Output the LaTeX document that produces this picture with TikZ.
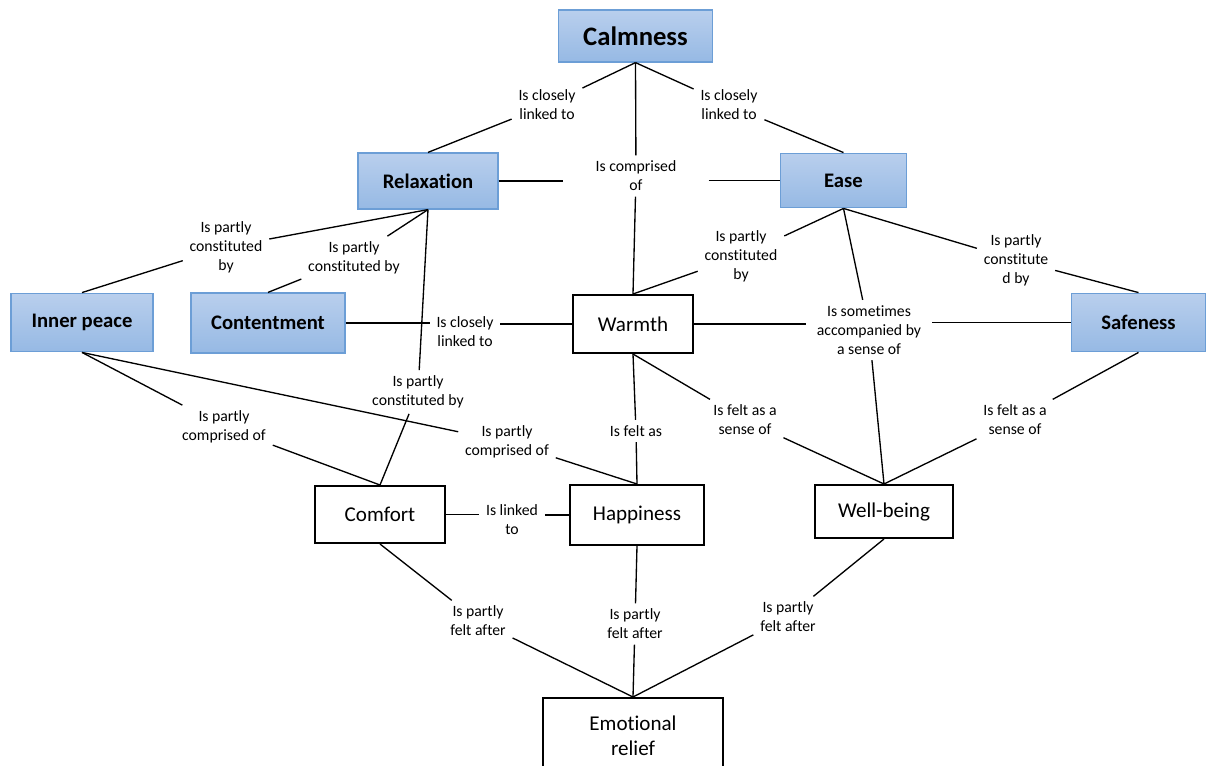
\documentclass[tikz,border=0pt]{standalone}
\usepackage{fontspec}
\setmainfont{Carlito}[Ligatures=NoCommon]
\definecolor{blueTop}{RGB}{185,207,237}
\definecolor{blueBot}{RGB}{150,185,228}
\definecolor{blueBorder}{RGB}{108,158,214}
\begin{document}
\begin{tikzpicture}[x=0.75pt,y=-0.75pt,
  bluebox/.style={draw=blueBorder, line width=0.9pt, top color=blueTop, bottom color=blueBot,
    font=\bfseries\fontsize{15.5}{18.5}\selectfont, inner sep=0pt, align=center},
  whitebox/.style={draw=black, line width=1.5pt, fill=white,
    font=\fontsize{15.8}{18.8}\selectfont, inner sep=0pt, align=center},
  lbl/.style={font=\fontsize{11.8}{14.3}\selectfont, align=center, inner xsep=5pt, inner ysep=4pt},
  conn/.style={draw=black, line width=1pt}]
\useasboundingbox (0,0) rectangle (1208,765);
\clip (0,0) rectangle (1208,765);
% boxes
\node[bluebox, minimum width=116pt, minimum height=39pt, font=\bfseries\fontsize{20}{24}\selectfont] (Calm) at (635.5,36) {Calmness};
\node[bluebox, minimum width=105pt, minimum height=42pt] (Relax) at (428,181) {Relaxation};
\node[bluebox, minimum width=95pt, minimum height=41pt] (Ease) at (843.5,180.5) {Ease};
\node[bluebox, minimum width=106.5pt, minimum height=44pt] (Inner) at (82,322.5) {Inner peace};
\node[bluebox, minimum width=115.5pt, minimum height=45pt] (Content) at (268,323) {Contentment};
\node[bluebox, minimum width=101pt, minimum height=44pt] (Safe) at (1138.5,322.5) {Safeness};
\node[whitebox, minimum width=90pt, minimum height=43.5pt] (Warmth) at (633,324) {Warmth};
\node[whitebox, minimum width=97.5pt, minimum height=42.75pt] (Comfort) at (380,514.5) {Comfort};
\node[whitebox, minimum width=100.5pt, minimum height=45pt] (Happy) at (637,515) {Happiness};
\node[whitebox, minimum width=103.5pt, minimum height=39.75pt] (Well) at (884,511.5) {Well-being};
\node[whitebox, minimum width=135pt, minimum height=57pt] (Relief) at (633,736) {Emotional\\relief};
% labels
\node[lbl] (L1) at (547,105) {Is closely\\linked to};
\node[lbl] (L2) at (729,105) {Is closely\\linked to};
\node[lbl, inner xsep=24pt] (L3) at (636,176) {Is comprised\\of};
\node[lbl] (L4) at (226,247) {Is partly\\constituted\\by};
\node[lbl] (L5) at (354,258) {Is partly\\constituted by};
\node[lbl] (L6) at (418,392) {Is partly\\constituted by};
\node[lbl] (L7) at (741,256) {Is partly\\constituted\\by};
\node[lbl, inner xsep=8pt] (L8) at (869,330) {Is sometimes\\accompanied by\\a sense of};
\node[lbl] (L9) at (1016,260) {Is partly\\constitute\\d by};
\node[lbl] (L10) at (465,332) {Is closely\\linked to};
\node[lbl] (L11) at (636,431) {Is felt as};
\node[lbl] (L12) at (745,420) {Is felt as a\\sense of};
\node[lbl] (L13) at (1015,420) {Is felt as a\\sense of};
\node[lbl] (L14) at (224,427) {Is partly\\comprised of};
\node[lbl] (L15) at (507,442) {Is partly\\comprised of};
\node[lbl] (L16) at (512,520) {Is linked\\to};
\node[lbl] (L17) at (478,621) {Is partly\\felt after};
\node[lbl] (L18) at (635,624) {Is partly\\felt after};
\node[lbl] (L19) at (788,617) {Is partly\\felt after};
% connectors
\draw[conn] (Calm.south) -- (L1) (L1) -- (Relax.north);
\draw[conn] (Calm.south) -- (L2) (L2) -- (Ease.north);
\draw[conn] (Calm.south) -- (L3) (L3) -- (Warmth.north);
\draw[conn] (Relax.east) -- (Relax.east -| L3.west) (L3.east |- Ease.west) -- (Ease.west);
\draw[conn] (Relax.south) -- (L4) (L4) -- (Inner.north);
\draw[conn] (Relax.south) -- (L5) (L5) -- (Content.north);
\draw[conn] (Relax.south) -- (L6) (L6) -- (Comfort.north);
\draw[conn] (Ease.south) -- (L7) (L7) -- (Warmth.north);
\draw[conn] (Ease.south) -- (L8) (L8) -- (Well.north);
\draw[conn] (Ease.south) -- (L9) (L9) -- (Safe.north);
\draw[conn] (Warmth.east) -- (Warmth.east -| L8.west) (L8.east |- Safe.west) -- (Safe.west);
\draw[conn] (Content.east) -- (Content.east -| L10.west) (L10.east |- Warmth.west) -- (Warmth.west);
\draw[conn] (Warmth.south) -- (L11) (L11) -- (Happy.north);
\draw[conn] (Warmth.south) -- (L12) (L12) -- (Well.north);
\draw[conn] (Safe.south) -- (L13) (L13) -- (Well.north);
\draw[conn] (Inner.south) -- (L14) (L14) -- (Comfort.north);
\draw[conn] (Inner.south) -- (L15) (L15) -- (Happy.north);
\draw[conn] (Comfort.east) -- (Comfort.east -| L16.west) (L16.east |- Happy.west) -- (Happy.west);
\draw[conn] (Comfort.south) -- (L17) (L17) -- (Relief.north);
\draw[conn] (Happy.south) -- (L18) (L18) -- (Relief.north);
\draw[conn] (Well.south) -- (L19) (L19) -- (Relief.north);
\end{tikzpicture}
\end{document}
